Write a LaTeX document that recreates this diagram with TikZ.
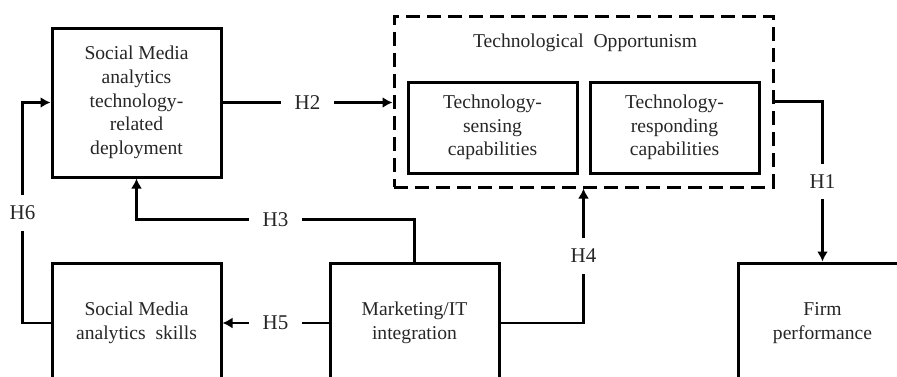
\documentclass[tikz,border=0pt]{standalone}
\usepackage{fontspec}
\setmainfont{Liberation Serif}
\usetikzlibrary{arrows.meta}

\begin{document}
\begin{tikzpicture}[x=1pt,y=-1pt]
                \useasboundingbox (0,0) rectangle (897,376);
                \clip (0,0) rectangle (897,376);
                \begin{scope}[every node/.style={draw, line width=3pt, minimum width=169pt, inner sep=0pt, align=center, text=black!85, font=\fontsize{19.6}{23.6}\selectfont}]
                        \node[minimum height=149pt] (smat) at (136.5,102.5) {Social Media\\analytics\\technology-\\related\\deployment};
                        \node[minimum height=91pt] (sense) at (492.5,127.5) {Technology-\\sensing\\capabilities};
                        \node[minimum height=91pt] (resp) at (674.5,127.5) {Technology-\\responding\\capabilities};
                        \node[minimum height=120pt] (skills) at (136.5,323) {Social Media\\analytics~~skills};
                        \node[minimum height=120pt] (mkt) at (414.5,323) {Marketing/IT\\integration};
                        \node[minimum height=120pt] (firm) at (822.5,323) {Firm\\performance};
                        \node[dashed, dash pattern=on 14pt off 7pt, minimum width=379pt, minimum height=171pt] (topp) at (583.5,101.5) {};
                \end{scope}
                \node[text=black!85, font=\fontsize{19.6}{23.6}\selectfont] (title) at (585,43) {Technological~~Opportunism};
                \begin{scope}[every node/.style={fill=white, inner xsep=14pt, inner ysep=11pt, text=black!85, font=\fontsize{21}{25}\selectfont}, every path/.style={line width=2.6pt, -{Latex[length=10pt,width=11pt]}}]
                        \draw (smat.east) -- node {H2} (smat.east -| topp.west);
                        \draw (topp.east) -| node[pos=0.75] {H1} (firm.north);
                        \draw (mkt.north) -- ++(0,-42) -| node[pos=0.25] {H3} (smat.south);
                        \draw (mkt.east) -| node[pos=0.75] {H4} (topp.south);
                        \draw (mkt.west) -- node {H5} (skills.east);
                        \draw (skills.west) -- ++(-28,0) |- node[pos=0.25] {H6} (smat.west);
               \end{scope}
\end{tikzpicture}
\end{document}
